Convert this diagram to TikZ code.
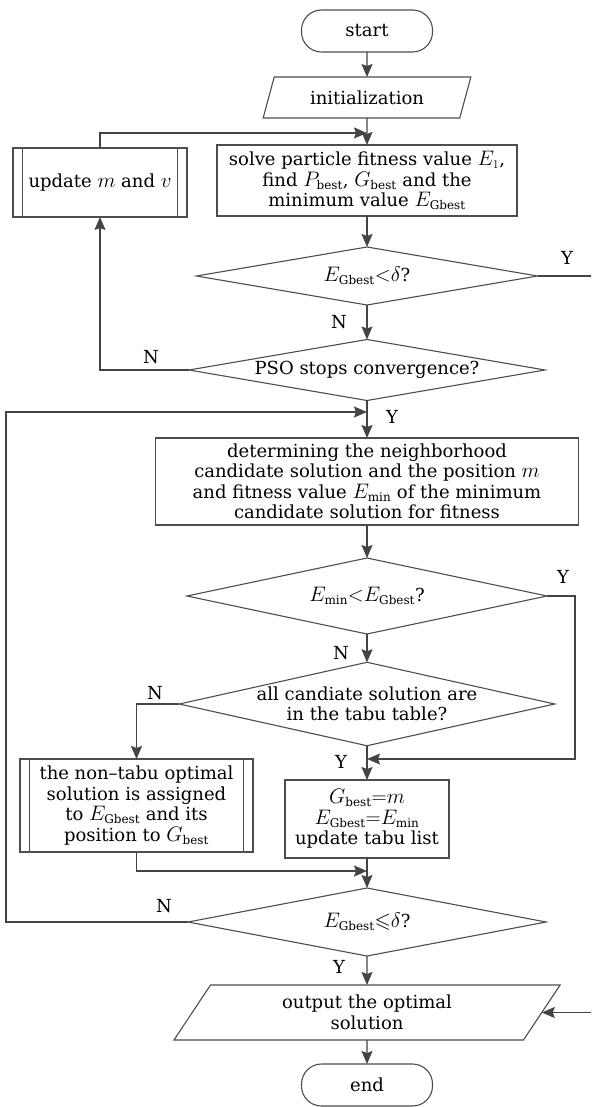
\documentclass[tikz,border=0pt]{standalone}
\usepackage{fix-cm}
\usepackage{amsmath,amssymb}
\usepackage{fontspec}
\setmainfont{DejaVu Serif}
\DeclareMathSizes{18}{21}{12}{10}
\usetikzlibrary{positioning, arrows.meta, shapes.geometric}

\definecolor{linegray}{HTML}{444444}
\definecolor{boxgray}{HTML}{4D4D4D}

\begin{document}
\begin{tikzpicture}[x=1pt,y=-1pt,
    every node/.style={inner sep=0pt,outer sep=0pt,align=center},
    font=\fontsize{18}{20.5}\selectfont,
    line/.style={draw=linegray,line width=1.4pt},
    arrow/.style={line,-{Stealth[length=13pt,width=11pt,inset=2pt]}},
    term/.style={draw=boxgray,line width=1.1pt,rounded corners=20pt,minimum width=131pt,minimum height=42pt},
    io/.style={draw=boxgray,line width=1.1pt,trapezium,trapezium stretches=true},
    proc/.style={draw=boxgray,line width=1.1pt,rectangle},
    subproc/.style={proc,append after command={
        ([xshift=9.5pt]\tikzlastnode.north west) edge[draw=boxgray,line width=1.1pt] ([xshift=9.5pt]\tikzlastnode.south west)
        ([xshift=-9.5pt]\tikzlastnode.north east) edge[draw=boxgray,line width=1.1pt] ([xshift=-9.5pt]\tikzlastnode.south east)}},
    decision/.style={draw=boxgray,line width=1.1pt,diamond,aspect=#1},
    lab/.style={}]

    % page frame, the two right stubs run off the page
    \useasboundingbox (0,0) rectangle (591,1107);
    \clip (0,0) rectangle (591,1107);

    % PSO part
    \node[term] (start) at (367,31) {start};
    \node[io,trapezium left angle=64,trapezium right angle=116,minimum width=208pt,minimum height=41pt] (init) at (367,97.5) {initialization};
    \node[proc,minimum width=300pt,minimum height=71pt] (solve) at (367,180.5) {solve particle fitness value $E_1$,\\ find $P_{\text{best}}$, $G_{\text{best}}$ and the\\ minimum value $E_{\text{Gbest}}$};
    \node[subproc,minimum width=174pt,minimum height=69pt] (upd) at (100,182.5) {update $m$ and $v$};
    \node[decision=5.9,minimum width=341pt,minimum height=58pt] (d1) at (367,276) {$E_{\text{Gbest}}{<}\delta$?};
    \node[decision=5.8,minimum width=356pt,minimum height=61pt] (d2) at (367,370) {PSO stops convergence?};

    % tabu search part
    \node[proc,minimum width=423pt,minimum height=87pt] (det) at (367,481.5) {determining the neighborhood\\ candidate solution and the position $m$\\ and fitness value $E_{\text{min}}$ of the minimum\\ candidate solution for fitness};
    \node[decision=4.7,minimum width=360pt,minimum height=76pt] (d3) at (367,596) {$E_{\text{min}}{<}E_{\text{Gbest}}$?};
    \node[decision=4.5,minimum width=370pt,minimum height=82pt] (d4) at (367,704) {all candiate solution are\\ in the tabu table?};
    \node[subproc,minimum width=233pt,minimum height=93pt] (nt) at (136.5,805.5) {the non--tabu optimal\\ solution is assigned\\ to $E_{\text{Gbest}}$ and its\\ position to $G_{\text{best}}$};
    \node[proc,minimum width=164pt,minimum height=78pt] (gb) at (367,819) {$G_{\text{best}}{=}m$\\ $E_{\text{Gbest}}{=}E_{\text{min}}$\\ update tabu list};
    \node[decision=5.3,minimum width=358pt,minimum height=68pt] (d5) at (367,922) {$E_{\text{Gbest}}{\leqslant}\delta$?};
    \node[io,trapezium left angle=60,trapezium right angle=120,minimum width=387pt,minimum height=55pt] (out) at (367,1012.5) {output the optimal\\ solution};
    \node[term] (end) at (367,1085) {end};

    % junctions
    \coordinate (m1) at (367,133);
    \coordinate (m2) at (367,412);
    \coordinate (m3) at (367,759);
    \coordinate (m4) at (367,871);
    \coordinate (lft) at (6,0);
    \coordinate (rgt) at (575,0);
    \coordinate (rim) at (600,0);

    % main flow
    \draw[arrow] (start) -- (init);
    \draw[arrow] (init) -- (solve);
    \draw[arrow] (solve) -- (d1);
    \draw[arrow] (d1) -- (d2);
    \draw[arrow] (d2) -- (det);
    \draw[arrow] (det) -- (d3);
    \draw[arrow] (d3) -- (d4);
    \draw[arrow] (d4) -- (gb);
    \draw[arrow] (gb) -- (d5);
    \draw[arrow] (d5) -- (out);
    \draw[arrow] (out) -- (end);

    % loops
    \draw[arrow] (d2.west) -| (upd.south);
    \draw[arrow] (upd.north) |- (m1);
    \draw[arrow] (d3.east) -- (d3.east -| rgt) |- (m3);
    \draw[arrow] (d4.west) -| (nt.north);
    \draw[arrow] (nt.south) |- (m4);
    \draw[arrow] (d5.west) -- (d5.west -| lft) |- (m2);
    \draw[arrow] (d1.east) -- (d1.east -| rim) |- (out.east);

    % branch labels
    \node[lab] (y1) at (567,258) {Y};
    \node[lab] (n1) at (339,322) {N};
    \node[lab] (n2) at (151,357) {N};
    \node[lab] (y2) at (392,417) {Y};
    \node[lab] (y3) at (563,577) {Y};
    \node[lab] (n3) at (341,653) {N};
    \node[lab] (n4) at (155,693) {N};
    \node[lab] (y4) at (341,762) {Y};
    \node[lab] (n5) at (164,906) {N};
    \node[lab] (y5) at (339,967) {Y};
\end{tikzpicture}
\end{document}
